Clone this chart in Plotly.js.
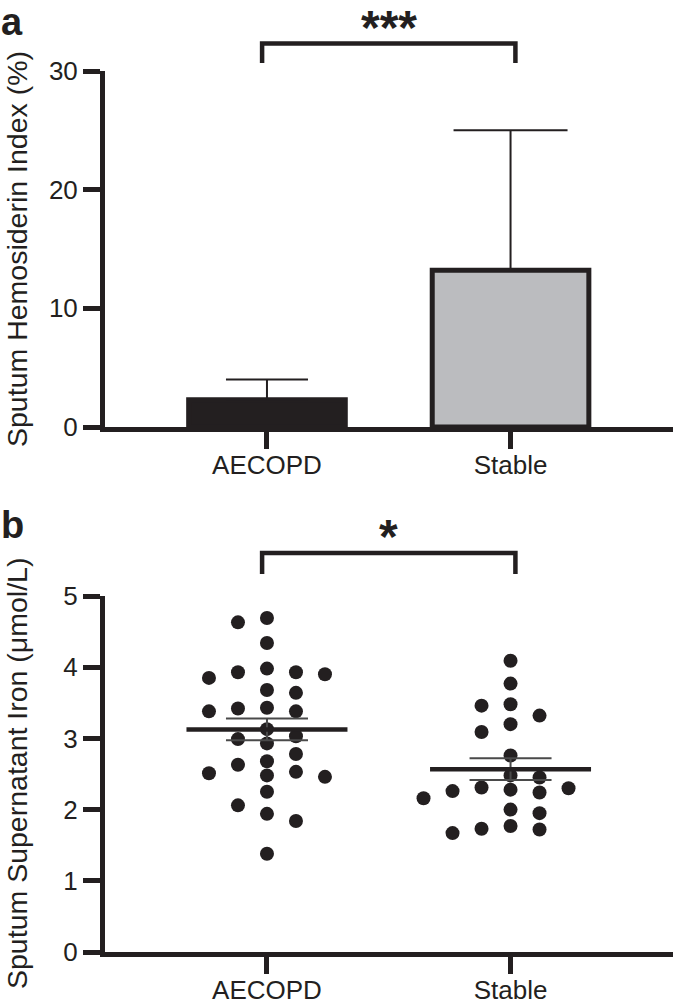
<!DOCTYPE html>
<html><head><meta charset="utf-8">
<script src="https://cdn.plot.ly/plotly-3.0.1.min.js"></script>
<style>html,body{margin:0;padding:0;background:#fff}</style>
</head><body>
<div id="chart" style="width:685px;height:1004px"></div>
<script>
// ---------- data ----------
const categories = ['AECOPD', 'Stable'];
// Panel a: sputum hemosiderin index (%), mean and SD
const hemoMean = [2.3, 13.2];
const hemoSD = [1.7, 11.8];
// Panel b: sputum supernatant iron (µmol/L), individual patients
const ironAECOPD = [4.69, 4.63, 4.34, 3.98, 3.93, 3.93, 3.90, 3.85, 3.68, 3.64,
                    3.43, 3.42, 3.38, 3.38, 3.13, 3.03, 2.99, 2.93, 2.78, 2.68,
                    2.63, 2.53, 2.51, 2.48, 2.46, 2.25, 2.06, 1.94, 1.84, 1.38];
const ironStable = [4.09, 3.77, 3.48, 3.46, 3.32, 3.20, 3.09, 2.76, 2.48, 2.45,
                    2.31, 2.30, 2.28, 2.26, 2.24, 2.16, 2.00, 1.95, 1.77, 1.73,
                    1.72, 1.67];
const yTicksA = [0, 10, 20, 30];
const yTicksB = [0, 1, 2, 3, 4, 5];
const sigLabels = ['***', '*'];
const panelLabels = ['a', 'b'];
const yTitles = ['Sputum Hemosiderin Index (%)', 'Sputum Supernatant Iron (μmol/L)'];

// ---------- style / geometry ----------
const INK = '#231f20';
const GREY_BAR = '#bbbcbf';
const FONT = 'Liberation Sans, Arial, Helvetica, sans-serif';
const W = 685, H = 1004;
const M = {l: 105, r: 12, t: 71, b: 52};
const plotW = W - M.l - M.r, plotH = H - M.t - M.b;
const panelPx = 356;
const xRange = [-0.665, 1.667];
const pxPerX = plotW / (xRange[1] - xRange[0]);
const pxPerYb = panelPx / 5;

// ---------- helpers ----------
function mean(a) { return a.reduce((s, v) => s + v, 0) / a.length; }
function sem(a) {
  const m = mean(a);
  const sd = Math.sqrt(a.reduce((s, v) => s + (v - m) * (v - m), 0) / (a.length - 1));
  return sd / Math.sqrt(a.length);
}
// deterministic beeswarm: points sorted high->low, placed on half-step grid
function swarm(values, center, diam, halfStep) {
  const idx = values.map((v, i) => i).sort((a, b) => values[b] - values[a]);
  const placed = [];
  const xs = new Array(values.length);
  let left = 0, right = 0;
  idx.forEach(i => {
    const v = values[i];
    for (let m = 0; m < 200; m++) {
      const cands = m === 0 ? [0] : (left <= right ? [-m, m] : [m, -m]);
      let found = null;
      for (const k of cands) {
        const ok = placed.every(p => Math.abs(p.k - k) >= 2 || Math.abs(p.v - v) * pxPerYb >= diam);
        if (ok) { found = k; break; }
      }
      if (found !== null) {
        placed.push({k: found, v: v});
        if (found < 0) left++; else if (found > 0) right++;
        xs[i] = center + found * halfStep / pxPerX;
        break;
      }
    }
  });
  return xs;
}

const groups = [ironAECOPD, ironStable];
const means = groups.map(mean);
const sems = groups.map(sem);

const traces = [];
// panel a bars
const capHalf = [41, 57];
[0, 1].forEach(i => {
  traces.push({
    type: 'bar', x: [i], y: [hemoMean[i]], width: 0.643,
    marker: {color: i === 0 ? INK : GREY_BAR, line: {color: INK, width: 5}},
    error_y: {type: 'data', symmetric: false, array: [hemoSD[i]], arrayminus: [0],
              width: capHalf[i], thickness: 2, color: INK},
    xaxis: 'x', yaxis: 'y', hoverinfo: 'skip', showlegend: false
  });
});
// panel b dots
groups.forEach((g, i) => {
  traces.push({
    type: 'scatter', mode: 'markers',
    x: swarm(g, i, 14, 14.5), y: g,
    marker: {size: 14, color: INK},
    xaxis: 'x2', yaxis: 'y2', hoverinfo: 'skip', showlegend: false, cliponaxis: false
  });
});
// SEM bars
traces.push({
  type: 'scatter', mode: 'markers', x: [0, 1], y: means,
  marker: {size: 1, color: 'rgba(0,0,0,0)'},
  error_y: {type: 'data', array: sems, width: 41, thickness: 2, color: '#4a4a4a'},
  xaxis: 'x2', yaxis: 'y2', hoverinfo: 'skip', showlegend: false
});
// mean lines
const halfMean = 80.5 / pxPerX;
means.forEach((m, i) => {
  traces.push({
    type: 'scatter', mode: 'lines', x: [i - halfMean, i + halfMean], y: [m, m],
    line: {color: INK, width: 4.5},
    xaxis: 'x2', yaxis: 'y2', hoverinfo: 'skip', showlegend: false
  });
});

const axisCommon = {
  showline: true, linecolor: INK, linewidth: 5, ticks: 'outside', ticklen: 17,
  tickwidth: 5, tickcolor: INK, showgrid: false, zeroline: false,
  tickfont: {family: FONT, size: 26, color: INK}, fixedrange: true
};
const dA0 = (plotH - panelPx) / plotH;
const dB1 = panelPx / plotH;

const xPaper = c => (c - xRange[0]) / (xRange[1] - xRange[0]);
const pyA = px => (H - M.b - px) / plotH; // page px -> paper y
const pxX = px => (px - M.l) / plotW;     // page px -> paper x

const shapes = [];
const brackets = [{top: 43.5, bot: 63}, {top: 553, bot: 574}];
brackets.forEach(b => {
  shapes.push({
    type: 'path', xref: 'paper', yref: 'paper',
    path: 'M' + xPaper(-0.02) + ',' + pyA(b.bot) + ' L' + xPaper(-0.02) + ',' + pyA(b.top) +
          ' L' + xPaper(1.02) + ',' + pyA(b.top) + ' L' + xPaper(1.02) + ',' + pyA(b.bot),
    line: {color: INK, width: 4.5}
  });
});

const annotations = [];
const starTop = [0, 509];
sigLabels.forEach((s, i) => {
  annotations.push({
    xref: 'paper', yref: 'paper', x: xPaper(0.5), y: pyA(starTop[i]),
    text: '<b>' + s + '</b>', showarrow: false, xanchor: 'center', yanchor: 'top',
    borderpad: 0, font: {family: FONT, size: 48, color: INK}
  });
});
const letterTop = [0, 503];
panelLabels.forEach((s, i) => {
  annotations.push({
    xref: 'paper', yref: 'paper', x: pxX(0), y: pyA(letterTop[i]),
    text: '<b>' + s + '</b>', showarrow: false, xanchor: 'left', yanchor: 'top',
    borderpad: 0, font: {family: FONT, size: 38, color: INK}
  });
});
const titleY = [249, 774];
yTitles.forEach((t, i) => {
  annotations.push({
    xref: 'paper', yref: 'paper', x: pxX(0), y: pyA(titleY[i]),
    text: t, textangle: -90, showarrow: false, xanchor: 'left', yanchor: 'middle',
    borderpad: 0, font: {family: FONT, size: 28.5, color: INK}
  });
});

const layout = {
  width: W, height: H, margin: M, paper_bgcolor: '#fff', plot_bgcolor: '#fff',
  barmode: 'overlay', showlegend: false,
  xaxis: Object.assign({}, axisCommon, {range: xRange, domain: [0, 1], anchor: 'y',
          tickvals: [0, 1], ticktext: categories, ticklabelstandoff: -6}),
  yaxis: Object.assign({}, axisCommon, {range: [0, 30], domain: [dA0, 1], anchor: 'x',
          tickvals: yTicksA}),
  xaxis2: Object.assign({}, axisCommon, {range: xRange, domain: [0, 1], anchor: 'y2',
          tickvals: [0, 1], ticktext: categories, ticklabelstandoff: -6}),
  yaxis2: Object.assign({}, axisCommon, {range: [0, 5], domain: [0, dB1], anchor: 'x2',
          tickvals: yTicksB}),
  shapes: shapes, annotations: annotations
};

Plotly.newPlot('chart', traces, layout, {displayModeBar: false, staticPlot: true});
</script>
</body></html>
